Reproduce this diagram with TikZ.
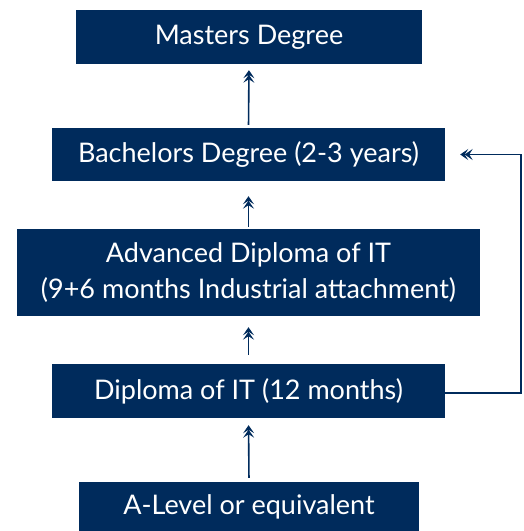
\documentclass[tikz,border=0pt]{standalone}
\usepackage{fontspec}
\setmainfont{Lato}
\usepackage{xcolor}
\usetikzlibrary{arrows.meta}
\definecolor{navy}{RGB}{0,43,92}

\begin{document}
\begin{tikzpicture}[x=1pt,y=1pt,
  stage/.style={fill=navy, text=white, inner sep=0pt, align=center,
    font=\fontsize{27}{36}\selectfont},
  arr/.style={draw=navy, line width=1.6pt,
    -{Stealth[length=8pt,width=11pt,inset=3.5pt,sep=-3.5pt]Stealth[length=8pt,width=11pt,inset=3.5pt]}}]
  % Page frame
  \useasboundingbox (0,0) rectangle (523,-531);
  \clip (0,0) rectangle (523,-531);

  % Stages of the pathway
  \node[stage, minimum width=346, minimum height=54] (masters) at (249,-37) {Masters Degree};
  \node[stage, minimum width=393, minimum height=53] (bach) at (248.5,-154.5) {Bachelors Degree (2-3 years)};
  \node[stage, minimum width=463, minimum height=87] (adv) at (248.5,-272.5)
    {Advanced Diploma of IT\\(9+6 months Industrial attachment)};
  \node[stage, minimum width=393, minimum height=54] (dip) at (248.5,-391) {Diploma of IT (12 months)};
  \node[stage, minimum width=340, minimum height=60] (alev) at (249,-512) {};
  \node[text=white, font=\fontsize{27}{33}\selectfont] (alevtext) at (249,-507) {A-Level or equivalent};

  % Arrows upward
  \draw[arr, shorten <=3pt, shorten >=6pt] (bach.north) -- (masters.south);
  \draw[arr, shorten <=2pt, shorten >=15pt] (adv.north) -- (bach.south);
  \draw[arr, shorten <=9pt, shorten >=11pt] (dip.north) -- (adv.south);
  \draw[arr, shorten <=4pt, shorten >=7pt] (alev.north) -- (dip.south);

  % Shortcut from diploma to bachelors
  \draw[arr, line width=1.2pt] ([yshift=-2pt]dip.east) -- (521,-393) |- ([xshift=15pt]bach.east);
\end{tikzpicture}
\end{document}
